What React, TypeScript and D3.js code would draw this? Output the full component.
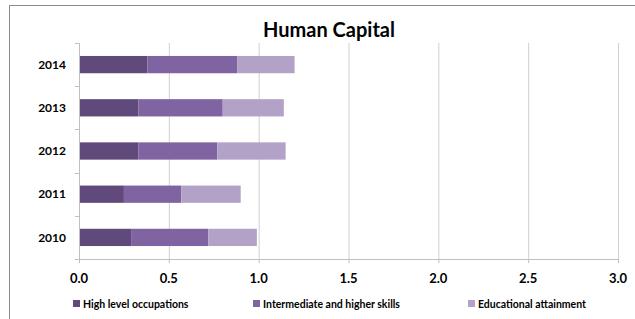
import * as d3 from "d3"
import React from "react"

const years = ["2014", "2013", "2012", "2011", "2010"]
const highLevel = [0.38, 0.33, 0.33, 0.25, 0.29]
const intermediate = [0.50, 0.47, 0.44, 0.32, 0.43]
const educational = [0.32, 0.34, 0.38, 0.33, 0.27]
const seriesNames = ["High level occupations", "Intermediate and higher skills", "Educational attainment"]
const xTicks = [0, 0.5, 1, 1.5, 2, 2.5, 3]

const colors = ["#604a7b", "#8064a2", "#b3a2c7"]
const font = "Lato, 'Open Sans', sans-serif"

const drawChart = (node: SVGSVGElement) => {
  const width = 635
  const height = 319
  const marginLeft = 79, marginRight = 17, marginTop = 43, marginBottom = 60

  const svg = d3.select(node)
  svg.selectAll("*").remove()

  // frame, cut off at right and bottom like the screenshot
  svg.append("rect")
    .attr("x", 9.5).attr("y", 5.5)
    .attr("width", 700).attr("height", 400)
    .attr("fill", "white")
    .attr("stroke", "#8c8c8c")

  svg.append("text")
    .attr("x", 329).attr("y", 37)
    .attr("text-anchor", "middle")
    .attr("font-family", font)
    .attr("font-weight", "bold")
    .attr("font-size", 20)
    .attr("fill", "#000")
    .text("Human Capital")

  const x = d3.scaleLinear([0, 3], [marginLeft, width - marginRight])
  const y = d3.scaleBand(years, [marginTop, height - marginBottom]).paddingInner(0.6).paddingOuter(0.3)

  const rows = years.map((yr, i) => ({ year: yr, v: [highLevel[i], intermediate[i], educational[i]] }))
  const stacked = d3.stack<any, number>()
    .keys([0, 1, 2])
    .value((d: any, k: number) => d.v[k])(rows as any)

  // grid
  svg.append("g")
    .selectAll("line")
    .data(xTicks.slice(1))
    .join("line")
    .attr("x1", (d) => x(d) + 0.5).attr("x2", (d) => x(d) + 0.5)
    .attr("y1", marginTop).attr("y2", height - marginBottom)
    .attr("stroke", "#d0d0d0")

  // bars
  svg.append("g")
    .selectAll("g")
    .data(stacked)
    .join("g")
    .attr("fill", (d, i) => colors[i])
    .selectAll("rect")
    .data((d) => d)
    .join("rect")
    .attr("x", (d) => x(d[0]))
    .attr("width", (d) => x(d[1]) - x(d[0]))
    .attr("y", (d: any) => y(d.data.year)!)
    .attr("height", y.bandwidth())

  // y axis
  const yStep = y.step()
  const boundaries = d3.range(years.length + 1).map((i) => marginTop + i * ((height - marginBottom - marginTop) / years.length))
  const yAxisG = svg.append("g")
  yAxisG.append("line")
    .attr("x1", marginLeft + 0.5).attr("x2", marginLeft + 0.5)
    .attr("y1", marginTop).attr("y2", height - marginBottom)
    .attr("stroke", "#bfbfbf")
  yAxisG.selectAll("line.tick")
    .data(boundaries)
    .join("line")
    .attr("class", "tick")
    .attr("x1", marginLeft - 4).attr("x2", marginLeft)
    .attr("y1", (d) => Math.round(d) + 0.5).attr("y2", (d) => Math.round(d) + 0.5)
    .attr("stroke", "#bfbfbf")
  yAxisG.selectAll("text")
    .data(years)
    .join("text")
    .attr("x", 66)
    .attr("y", (d) => y(d)! + y.bandwidth() / 2)
    .attr("dy", "0.35em")
    .attr("text-anchor", "end")
    .attr("font-family", font)
    .attr("font-weight", "bold")
    .attr("font-size", 12)
    .attr("fill", "#000")
    .text((d) => d)
  void yStep

  // x axis
  const xAxisG = svg.append("g")
  xAxisG.append("line")
    .attr("x1", marginLeft).attr("x2", width - marginRight)
    .attr("y1", height - marginBottom + 0.5).attr("y2", height - marginBottom + 0.5)
    .attr("stroke", "#bfbfbf")
  xAxisG.selectAll("line.tick")
    .data(xTicks)
    .join("line")
    .attr("class", "tick")
    .attr("x1", (d) => x(d) + 0.5).attr("x2", (d) => x(d) + 0.5)
    .attr("y1", height - marginBottom).attr("y2", height - marginBottom + 4)
    .attr("stroke", "#bfbfbf")
  xAxisG.selectAll("text")
    .data(xTicks)
    .join("text")
    .attr("x", (d) => x(d))
    .attr("y", 283)
    .attr("text-anchor", "middle")
    .attr("font-family", font)
    .attr("font-weight", "bold")
    .attr("font-size", 13)
    .attr("fill", "#000")
    .text((d) => d3.format(".1f")(d))

  // legend
  const legendX = [73, 253, 468]
  const legend = svg.append("g")
    .selectAll("g")
    .data(seriesNames)
    .join("g")
    .attr("transform", (d, i) => `translate(${legendX[i]},304)`)
  legend.append("rect")
    .attr("x", 0).attr("y", -4)
    .attr("width", 7).attr("height", 7)
    .attr("fill", (d, i) => colors[i])
  legend.append("text")
    .attr("x", 10)
    .attr("y", 0)
    .attr("dy", "0.35em")
    .attr("font-family", font)
    .attr("font-weight", "bold")
    .attr("font-size", 10.5)
    .attr("fill", "#000")
    .text((d) => d)
}

const App = () => {
  const ref = React.useRef<SVGSVGElement>(null)
  React.useEffect(() => {
    if (ref.current) drawChart(ref.current)
  }, [])
  return (
    <svg ref={ref} width={635} height={319}
      style={{ position: "absolute", left: 0, top: 0, background: "white" }} />
  )
}

export default App
